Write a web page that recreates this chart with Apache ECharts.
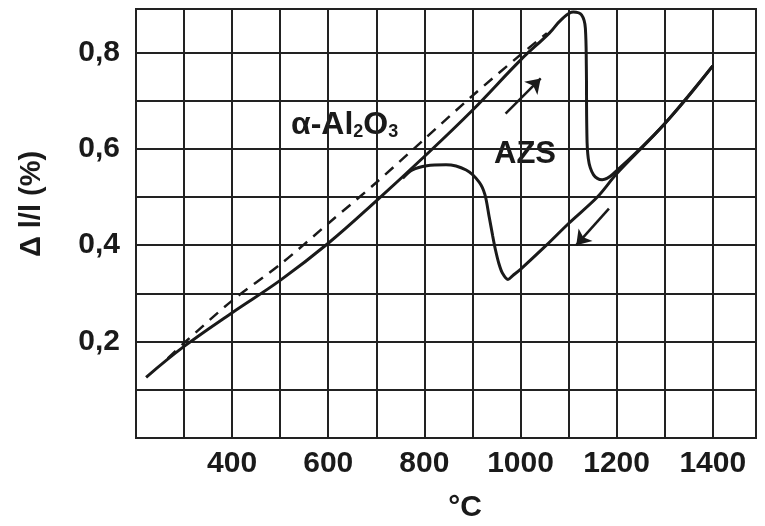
<!DOCTYPE html>
<html>
<head>
<meta charset="utf-8">
<script src="https://cdn.jsdelivr.net/npm/echarts@6/dist/echarts.min.js"></script>
<style>
  html, body { margin: 0; padding: 0; background: #fff; }
  #chart { width: 765px; height: 526px; }
</style>
</head>
<body>
<div id="chart"></div>
<script>
// x: temperature (°C), y: ΔL/L (%)
var xTickLabels = [400, 600, 800, 1000, 1200, 1400];
var yTickLabels = [0.2, 0.4, 0.6, 0.8];

// α-Al2O3 reference (dashed)
var alumina = [
  [266, 0.165], [300, 0.197], [400, 0.285], [500, 0.36], [600, 0.445],
  [700, 0.53], [800, 0.62], [900, 0.71], [1000, 0.795], [1055, 0.84]
];

// AZS heating
var azsHeating = [
  [221, 0.126], [300, 0.19], [400, 0.26], [500, 0.327], [600, 0.404],
  [700, 0.492], [800, 0.584], [900, 0.68], [1000, 0.784], [1060, 0.84],
  [1085, 0.868], [1110, 0.884], [1127, 0.878], [1135, 0.85], [1137, 0.77],
  [1138, 0.64], [1141, 0.58], [1152, 0.546], [1170, 0.536], [1195, 0.55],
  [1300, 0.652], [1400, 0.772]
];

// AZS cooling
var azsCooling = [
  [1400, 0.772], [1300, 0.652], [1200, 0.548], [1160, 0.5], [1100, 0.445],
  [1054, 0.4], [1000, 0.35], [984, 0.337], [974, 0.329], [962, 0.343],
  [955, 0.362], [948, 0.39], [942, 0.42], [935, 0.458], [926, 0.505],
  [914, 0.531], [887, 0.556], [845, 0.567], [805, 0.565], [775, 0.556],
  [755, 0.539]
];

// direction arrows [from, to]
var heatArrow = [[969, 0.673], [1042, 0.746]];
var coolArrow = [[1184, 0.476], [1116, 0.40]];

var FONT = "'Liberation Sans', Arial, sans-serif";
var INK = '#1a1a1a';

var chart = echarts.init(document.getElementById('chart'));

function fmtX(v) {
  return xTickLabels.indexOf(Math.round(v)) >= 0 ? String(Math.round(v)) : '';
}
function fmtY(v) {
  var r = Math.round(v * 10) / 10;
  if (Math.abs(r - v) > 1e-6) return '';
  return yTickLabels.indexOf(r) >= 0 ? r.toFixed(1).replace('.', ',') : '';
}

var option = {
  animation: false,
  backgroundColor: '#fff',
  grid: {
    left: 136, right: 9, top: 9, bottom: 88,
    show: true, borderColor: '#222', borderWidth: 2, backgroundColor: 'transparent'
  },
  xAxis: {
    type: 'value', min: 200, max: 1490, interval: 100,
    axisLine: { show: false }, axisTick: { show: false },
    splitLine: { show: true, lineStyle: { color: '#222', width: 2 } },
    axisLabel: {
      formatter: fmtX, fontFamily: FONT, fontSize: 30, fontWeight: 'bold',
      color: INK, margin: 11
    }
  },
  yAxis: {
    type: 'value', min: 0, max: 0.89, interval: 0.1,
    axisLine: { show: false }, axisTick: { show: false },
    splitLine: { show: true, lineStyle: { color: '#222', width: 2 } },
    axisLabel: {
      formatter: fmtY, fontFamily: FONT, fontSize: 30, fontWeight: 'bold',
      color: INK, margin: 16
    }
  },
  series: [
    {
      name: 'α-Al2O3', type: 'line', data: alumina, showSymbol: false, smooth: 0.3,
      lineStyle: { color: INK, width: 2.5, type: [11, 8] }, z: 3
    },
    {
      name: 'AZS heating', type: 'line', data: azsHeating, showSymbol: false, smooth: 0.4,
      lineStyle: { color: INK, width: 3 }, z: 4
    },
    {
      name: 'AZS cooling', type: 'line', data: azsCooling, showSymbol: false, smooth: 0.3,
      lineStyle: { color: INK, width: 3 }, z: 4,
      markLine: {
        silent: true,
        symbol: ['none', 'arrow'],
        symbolSize: 14,
        label: { show: false },
        lineStyle: { color: INK, width: 2.5, type: 'solid' },
        data: [
          [{ coord: heatArrow[0] }, { coord: heatArrow[1] }],
          [{ coord: coolArrow[0] }, { coord: coolArrow[1] }]
        ]
      }
    }
  ],
  graphic: [
    {
      type: 'text', x: 32, y: 204, rotation: Math.PI / 2,
      style: {
        text: 'Δ l/l (%)', fontFamily: FONT, fontSize: 29, fontWeight: 'bold',
        fill: INK, align: 'center', verticalAlign: 'middle'
      }
    },
    {
      type: 'text', x: 465, y: 508,
      style: {
        text: '°C', fontFamily: FONT, fontSize: 30, fontWeight: 'bold',
        fill: INK, align: 'center', verticalAlign: 'middle'
      }
    },
    {
      type: 'text', x: 291, y: 125,
      style: {
        text: '{n|α-Al}{s|2}{n|O}{s|3}',
        fill: INK, align: 'left', verticalAlign: 'middle',
        rich: {
          n: { fontFamily: FONT, fontSize: 32, fontWeight: 'bold', fill: INK, lineHeight: 32 },
          s: { fontFamily: FONT, fontSize: 18, fontWeight: 'bold', fill: INK, lineHeight: 18, verticalAlign: 'bottom' }
        }
      }
    },
    {
      type: 'text', x: 494, y: 154,
      style: {
        text: 'AZS', fontFamily: FONT, fontSize: 31, fontWeight: 'bold',
        fill: INK, align: 'left', verticalAlign: 'middle'
      }
    }
  ]
};

chart.setOption(option);
</script>
</body>
</html>
